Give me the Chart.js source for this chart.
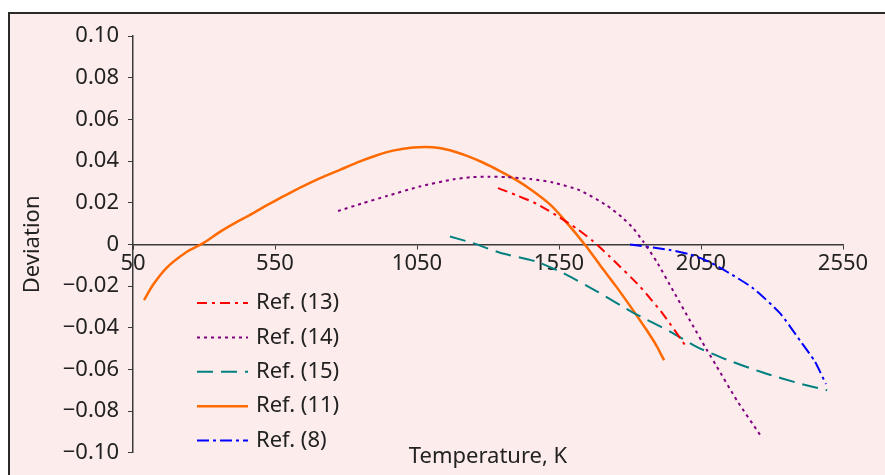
<!DOCTYPE html>
<html lang="en">

<head>
    <meta charset="UTF-8">
    <title>Deviation vs temperature</title>
    <script src="https://cdn.jsdelivr.net/npm/chart.js@4.4.1/dist/chart.umd.min.js"></script>
    <style>
        body { margin: 0; background: #ffffff; }
        #wrap { width: 885px; height: 475px; position: relative; }
    </style>
</head>

<body>
    <div id="wrap"><canvas id="myChart"></canvas></div>
    <script>
        // data (temperature in K, deviation)
        var ref13T = [1335, 1402, 1471, 1540, 1612, 1670, 1729, 1835, 1917, 2000];
        var ref13D = [0.027, 0.0235, 0.0195, 0.0140, 0.0076, 0.0015, -0.0059, -0.0202, -0.0336, -0.0495];

        var ref14T = [772, 860, 944, 1060, 1177, 1237, 1300, 1367, 1448, 1529, 1624, 1718, 1777, 1812, 1847, 1894, 1953, 2011, 2070, 2105, 2177, 2258];
        var ref14D = [0.016, 0.0198, 0.0232, 0.0278, 0.0312, 0.0322, 0.0325, 0.0323, 0.0314, 0.0297, 0.0259, 0.0187, 0.0124, 0.0076, 0.0013, -0.0083, -0.0225, -0.0365, -0.0505, -0.0585, -0.0750, -0.0914];

        var ref15T = [1166, 1250, 1342, 1471, 1577, 1683, 1812, 1941, 2035, 2140, 2268, 2398, 2494];
        var ref15D = [0.0038, 0.0005, -0.0040, -0.0083, -0.0146, -0.0225, -0.0328, -0.0418, -0.0492, -0.0553, -0.0615, -0.0668, -0.0700];

        var ref11T = [89, 120, 170, 240, 296, 356, 416, 460, 508, 568, 613, 709, 779, 849, 909, 965, 1036, 1106, 1166, 1226, 1282, 1342, 1402, 1459, 1518, 1565, 1647, 1694, 1753, 1800, 1859, 1895, 1920];
        var ref11D = [-0.0267, -0.0195, -0.0110, -0.0035, 0.0005, 0.0060, 0.0108, 0.0140, 0.0178, 0.0222, 0.0255, 0.0318, 0.0358, 0.0398, 0.0428, 0.0450, 0.0465, 0.0466, 0.0452, 0.0425, 0.0393, 0.0352, 0.0307, 0.0255, 0.0192, 0.0124, -0.0011, -0.0099, -0.0205, -0.0295, -0.0412, -0.0490, -0.0556];

        var ref8T = [1800, 1941, 2011, 2070, 2140, 2233, 2328, 2398, 2450, 2490];
        var ref8D = [0, -0.0027, -0.0048, -0.0078, -0.013, -0.021, -0.033, -0.046, -0.056, -0.067];

        var seriesNames = ['Ref. (13)', 'Ref. (14)', 'Ref. (15)', 'Ref. (11)', 'Ref. (8)'];

        var xTicks = [50, 550, 1050, 1550, 2050, 2550];
        var yTicks = [0.10, 0.08, 0.06, 0.04, 0.02, 0, -0.02, -0.04, -0.06, -0.08, -0.10];
        var yTickLabels = ['0.10', '0.08', '0.06', '0.04', '0.02', '0', '\u22120.02', '\u22120.04', '\u22120.06', '\u22120.08', '\u22120.10'];

        function pairs(xs, ys) {
            return xs.map(function (x, i) {
                return { x: x, y: ys[i] };
            });
        }

        var textColor = '#222222';
        var axisColor = '#3a3a3a';
        var fontFamily = '"Noto Sans", "Open Sans", sans-serif';

        function line(label, xs, ys, color, width, dash) {
            return {
                label: label,
                data: pairs(xs, ys),
                showLine: true,
                borderColor: color,
                backgroundColor: color,
                borderWidth: width,
                borderDash: dash,
                pointRadius: 0,
                tension: 0.2,
                fill: false
            };
        }

        // page background with the framed pink panel
        var panel = {
            id: 'panel',
            beforeDraw: function (chart) {
                var c = chart.ctx;
                c.save();
                c.fillStyle = '#ffffff';
                c.fillRect(0, 0, chart.width, chart.height);
                c.fillStyle = '#fdecec';
                c.fillRect(8, 12, chart.width - 8, chart.height - 12);
                c.strokeStyle = '#2a2a2a';
                c.lineWidth = 2;
                c.beginPath();
                c.moveTo(9, chart.height);
                c.lineTo(9, 13);
                c.lineTo(chart.width, 13);
                c.stroke();
                c.restore();
            }
        };

        // legend drawn inside the plot, lower left
        var insideLegend = {
            id: 'insideLegend',
            afterDatasetsDraw: function (chart) {
                var c = chart.ctx;
                c.save();
                c.font = '22px ' + fontFamily;
                c.textBaseline = 'middle';
                c.fillStyle = textColor;
                chart.data.datasets.forEach(function (ds, i) {
                    var y = 303 + i * 34.4;
                    c.strokeStyle = ds.borderColor;
                    c.lineWidth = ds.borderWidth;
                    c.setLineDash(ds.borderDash || []);
                    c.beginPath();
                    c.moveTo(197, y);
                    c.lineTo(248, y);
                    c.stroke();
                    c.setLineDash([]);
                    c.fillText(ds.label, 256, y);
                });
                c.restore();
            }
        };

        var ctx = document.getElementById('myChart');
        var myChart = new Chart(ctx, {
            type: 'scatter',
            data: {
                datasets: [
                    line(seriesNames[0], ref13T, ref13D, '#ff0000', 2, [10, 5, 3, 5]),
                    line(seriesNames[1], ref14T, ref14D, '#800080', 2, [3, 4]),
                    line(seriesNames[2], ref15T, ref15D, '#008080', 2, [16, 8]),
                    line(seriesNames[3], ref11T, ref11D, '#ff6a00', 2.5, []),
                    line(seriesNames[4], ref8T, ref8D, '#0000ff', 2, [12, 4, 3, 4])
                ]
            },
            options: {
                responsive: true,
                maintainAspectRatio: false,
                animation: false,
                layout: {
                    padding: { top: 36, right: 42, left: 0, bottom: 0 }
                },
                plugins: {
                    legend: { display: false },
                    tooltip: { enabled: false }
                },
                scales: {
                    x: {
                        type: 'linear',
                        position: { y: 0 },
                        min: 50,
                        max: 2550,
                        afterBuildTicks: function (scale) {
                            scale.ticks = xTicks.map(function (v) { return { value: v }; });
                        },
                        ticks: {
                            color: textColor,
                            font: { family: fontFamily, size: 22 },
                            padding: 2,
                            maxRotation: 0,
                            callback: function (v) { return String(v); }
                        },
                        grid: { display: true, drawOnChartArea: false, drawTicks: true, tickLength: 4, color: axisColor },
                        border: { display: true, color: axisColor, width: 1.5 }
                    },
                    x2: {
                        type: 'linear',
                        position: 'bottom',
                        min: 50,
                        max: 2550,
                        ticks: { display: false },
                        grid: { display: false },
                        border: { display: false },
                        title: {
                            display: true,
                            text: 'Temperature, K',
                            color: textColor,
                            font: { family: fontFamily, size: 22 },
                            padding: { top: 0, bottom: 2 }
                        },
                        afterFit: function (scale) { scale.height = 19; }
                    },
                    y: {
                        type: 'linear',
                        min: -0.1,
                        max: 0.1,
                        afterBuildTicks: function (scale) {
                            scale.ticks = yTicks.map(function (v) { return { value: v }; });
                        },
                        ticks: {
                            color: textColor,
                            font: { family: fontFamily, size: 22 },
                            padding: 9,
                            callback: function (v, i) { return yTickLabels[i]; }
                        },
                        grid: { display: true, drawOnChartArea: false, drawTicks: true, tickLength: 5, color: axisColor },
                        border: { display: true, color: axisColor, width: 1.5 },
                        title: {
                            display: true,
                            text: 'Deviation',
                            color: textColor,
                            font: { family: fontFamily, size: 22 },
                            padding: { top: 20, bottom: 0 }
                        },
                        afterFit: function (scale) { scale.width = 133; }
                    }
                }
            },
            plugins: [panel, insideLegend]
        });
    </script>
</body>

</html>
